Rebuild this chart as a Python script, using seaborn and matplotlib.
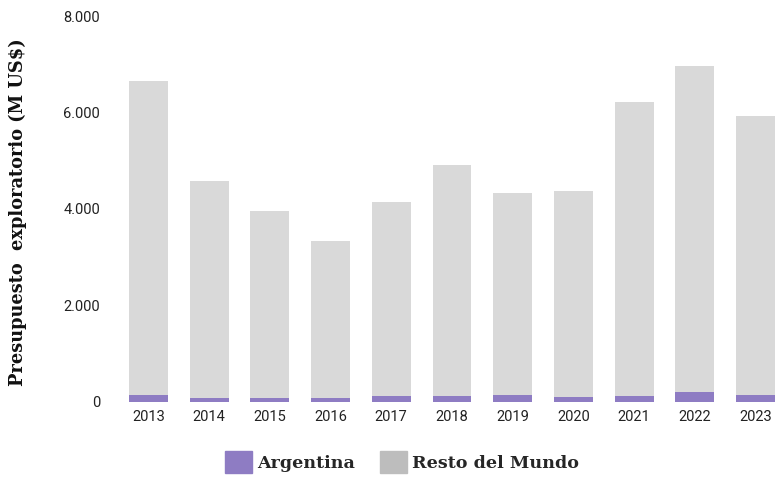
import matplotlib
matplotlib.use("Agg")
import matplotlib.pyplot as plt
import matplotlib.patches as mpatches
from matplotlib.ticker import FuncFormatter
import seaborn as sns
import pandas as pd

years = ["2013", "2014", "2015", "2016", "2017", "2018", "2019", "2020", "2021", "2022", "2023"]
argentina = [125, 80, 80, 80, 110, 110, 130, 85, 110, 190, 130]
resto_mundo = [6535, 4505, 3868, 3246, 4025, 4792, 4191, 4292, 6104, 6763, 5793]

df = pd.DataFrame({"year": years, "argentina": argentina, "resto": resto_mundo})
df["total"] = df["argentina"] + df["resto"]

sns.set_theme(style="white")
plt.rcParams["font.family"] = ["Roboto", "DejaVu Sans"]

fig = plt.figure(figsize=(7.78, 5.0), dpi=100)
ax = fig.add_axes([0.1517, 0.197, 0.8483, 0.771])

sns.barplot(data=df, x="year", y="total", color="#D9D9D9", saturation=1, width=0.64,
            linewidth=0, ax=ax, zorder=2)
sns.barplot(data=df, x="year", y="argentina", color="#8E7CC3", saturation=1, width=0.64,
            linewidth=0, ax=ax, zorder=3)

ax.set_ylim(0, 8000)
ax.set_xlim(-0.5, 10.37)
ax.set_yticks([0, 2000, 4000, 6000, 8000])
ax.yaxis.set_major_formatter(FuncFormatter(lambda v, p: f"{int(v):,}".replace(",", ".")))
ax.tick_params(axis="both", length=0, labelsize=10.5, colors="#222222")
ax.tick_params(axis="y", pad=13)
ax.tick_params(axis="x", pad=6)
for s in ax.spines.values():
    s.set_visible(False)
ax.set_xlabel("")
ax.set_ylabel("")
ax.grid(False)

fig.text(0.023, 0.576, "Presupuesto  exploratorio (M US$)", rotation=90, ha="center", va="center",
         fontsize=12.8, fontweight="bold", family=["DejaVu Serif"], color="#111111")

handles = [mpatches.Patch(color="#8E7CC3", label="Argentina"),
           mpatches.Patch(color="#BDBDBD", label="Resto del Mundo")]
leg = fig.legend(handles=handles, loc="center", bbox_to_anchor=(0.517, 0.076), ncol=2, frameon=False,
                 prop={"family": "DejaVu Serif", "weight": "bold", "size": 12.6},
                 handlelength=1.55, handleheight=1.55, handletextpad=0.3, columnspacing=1.4)

fig.savefig("out.png", dpi=100)
